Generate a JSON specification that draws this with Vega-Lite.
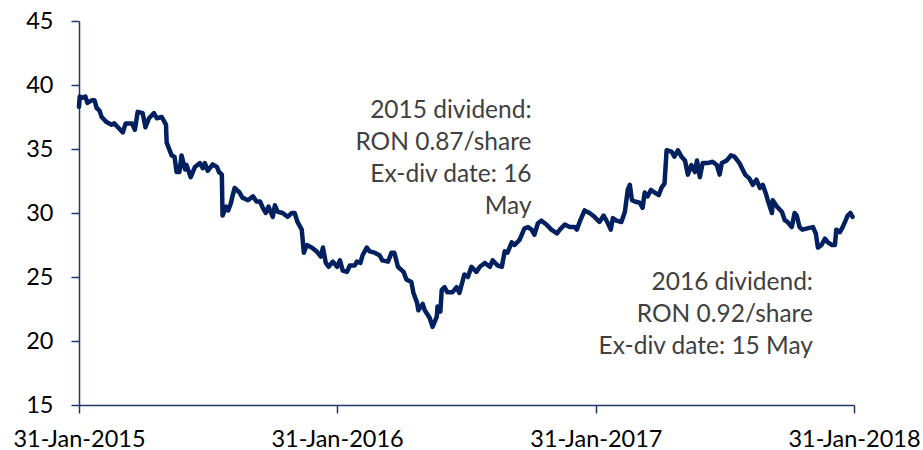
{
  "$schema": "https://vega.github.io/schema/vega-lite/v6.json",
  "width": 775,
  "height": 384,
  "autosize": {"type": "none"},
  "padding": {"left": 79, "top": 21, "right": 69, "bottom": 45},
  "background": "white",
  "config": {
    "view": {"stroke": null},
    "font": "Lato",
    "axis": {
      "domainColor": "#1F3864",
      "domainWidth": 1.5,
      "tickColor": "#1F3864",
      "tickWidth": 1.5,
      "tickSize": 8,
      "grid": false,
      "labelFont": "Lato",
      "labelFontSize": 23.5,
      "labelColor": "#000000",
      "title": null
    }
  },
  "datasets": {
    "prices": [
      {"date":"2015-01-31","price":38.3},{"date":"2015-02-01","price":39.1},{"date":"2015-02-05","price":39.0},{"date":"2015-02-09","price":39.1},
      {"date":"2015-02-12","price":38.6},{"date":"2015-02-18","price":38.8},{"date":"2015-02-22","price":38.8},{"date":"2015-02-25","price":38.2},
      {"date":"2015-03-01","price":38.0},{"date":"2015-03-04","price":37.5},{"date":"2015-03-11","price":37.1},{"date":"2015-03-18","price":36.9},
      {"date":"2015-03-22","price":37.0},{"date":"2015-03-27","price":36.7},{"date":"2015-04-03","price":36.3},{"date":"2015-04-07","price":37.0},
      {"date":"2015-04-16","price":37.0},{"date":"2015-04-20","price":36.5},{"date":"2015-04-24","price":37.9},{"date":"2015-05-01","price":37.8},
      {"date":"2015-05-05","price":36.7},{"date":"2015-05-10","price":37.4},{"date":"2015-05-17","price":37.8},{"date":"2015-05-21","price":37.4},
      {"date":"2015-05-28","price":37.5},{"date":"2015-06-03","price":36.9},{"date":"2015-06-04","price":35.5},{"date":"2015-06-11","price":34.5},
      {"date":"2015-06-15","price":34.4},{"date":"2015-06-18","price":33.2},{"date":"2015-06-22","price":33.2},{"date":"2015-06-25","price":34.5},
      {"date":"2015-06-30","price":33.4},{"date":"2015-07-02","price":33.75},{"date":"2015-07-08","price":32.8},{"date":"2015-07-14","price":33.6},
      {"date":"2015-07-21","price":33.9},{"date":"2015-07-25","price":33.5},{"date":"2015-07-28","price":33.9},{"date":"2015-08-01","price":33.3},
      {"date":"2015-08-08","price":33.8},{"date":"2015-08-14","price":33.6},{"date":"2015-08-17","price":33.2},{"date":"2015-08-21","price":33.0},
      {"date":"2015-08-22","price":29.8},{"date":"2015-08-27","price":30.5},{"date":"2015-08-30","price":30.2},{"date":"2015-09-03","price":30.8},
      {"date":"2015-09-05","price":31.3},{"date":"2015-09-08","price":31.95},{"date":"2015-09-15","price":31.6},{"date":"2015-09-19","price":31.2},
      {"date":"2015-09-27","price":31.0},{"date":"2015-10-04","price":31.3},{"date":"2015-10-09","price":30.9},{"date":"2015-10-14","price":30.9},
      {"date":"2015-10-18","price":30.4},{"date":"2015-10-22","price":30.0},{"date":"2015-10-26","price":30.5},{"date":"2015-11-01","price":29.7},
      {"date":"2015-11-04","price":30.6},{"date":"2015-11-08","price":30.1},{"date":"2015-11-15","price":30.0},{"date":"2015-11-22","price":29.7},
      {"date":"2015-11-28","price":30.0},{"date":"2015-12-02","price":30.0},{"date":"2015-12-06","price":29.3},{"date":"2015-12-12","price":28.7},
      {"date":"2015-12-15","price":26.9},{"date":"2015-12-19","price":27.5},{"date":"2015-12-26","price":27.3},{"date":"2016-01-02","price":27.0},
      {"date":"2016-01-08","price":26.6},{"date":"2016-01-11","price":27.3},{"date":"2016-01-15","price":26.1},{"date":"2016-01-19","price":25.8},
      {"date":"2016-01-25","price":26.2},{"date":"2016-01-31","price":25.8},{"date":"2016-02-04","price":26.3},{"date":"2016-02-08","price":25.5},
      {"date":"2016-02-14","price":25.4},{"date":"2016-02-18","price":25.9},{"date":"2016-02-25","price":25.9},{"date":"2016-02-28","price":26.2},
      {"date":"2016-03-04","price":26.1},{"date":"2016-03-07","price":26.7},{"date":"2016-03-13","price":27.3},{"date":"2016-03-17","price":27.0},
      {"date":"2016-03-24","price":26.9},{"date":"2016-03-31","price":26.7},{"date":"2016-04-04","price":26.3},{"date":"2016-04-12","price":26.2},
      {"date":"2016-04-17","price":26.9},{"date":"2016-04-21","price":26.9},{"date":"2016-04-26","price":25.8},{"date":"2016-05-04","price":25.4},
      {"date":"2016-05-08","price":24.8},{"date":"2016-05-15","price":24.6},{"date":"2016-05-18","price":23.75},{"date":"2016-05-23","price":23.0},
      {"date":"2016-05-25","price":22.4},{"date":"2016-05-31","price":22.9},{"date":"2016-06-03","price":22.4},{"date":"2016-06-10","price":21.8},
      {"date":"2016-06-14","price":21.1},{"date":"2016-06-20","price":21.9},{"date":"2016-06-21","price":22.7},{"date":"2016-06-25","price":22.3},
      {"date":"2016-06-27","price":24.0},{"date":"2016-07-01","price":24.2},{"date":"2016-07-05","price":23.8},{"date":"2016-07-12","price":23.8},
      {"date":"2016-07-18","price":24.2},{"date":"2016-07-22","price":23.75},{"date":"2016-07-29","price":25.2},{"date":"2016-08-03","price":25.0},
      {"date":"2016-08-08","price":25.8},{"date":"2016-08-15","price":25.4},{"date":"2016-08-20","price":25.8},{"date":"2016-08-27","price":26.1},
      {"date":"2016-09-03","price":25.8},{"date":"2016-09-07","price":26.3},{"date":"2016-09-14","price":25.9},{"date":"2016-09-20","price":25.8},
      {"date":"2016-09-24","price":27.0},{"date":"2016-09-28","price":26.9},{"date":"2016-10-04","price":27.7},{"date":"2016-10-08","price":27.5},
      {"date":"2016-10-15","price":27.9},{"date":"2016-10-22","price":28.8},{"date":"2016-10-27","price":28.9},{"date":"2016-11-01","price":28.7},
      {"date":"2016-11-05","price":28.3},{"date":"2016-11-10","price":29.2},{"date":"2016-11-15","price":29.4},{"date":"2016-11-22","price":29.1},
      {"date":"2016-11-29","price":28.7},{"date":"2016-12-07","price":28.4},{"date":"2016-12-11","price":28.7},{"date":"2016-12-18","price":29.1},
      {"date":"2016-12-25","price":28.9},{"date":"2017-01-01","price":28.9},{"date":"2017-01-04","price":28.7},{"date":"2017-01-08","price":29.3},
      {"date":"2017-01-15","price":30.2},{"date":"2017-01-22","price":30.0},{"date":"2017-01-29","price":29.7},{"date":"2017-02-05","price":29.3},
      {"date":"2017-02-11","price":29.8},{"date":"2017-02-17","price":29.2},{"date":"2017-02-21","price":28.7},{"date":"2017-02-24","price":29.6},
      {"date":"2017-03-01","price":29.4},{"date":"2017-03-08","price":29.3},{"date":"2017-03-13","price":30.1},{"date":"2017-03-17","price":31.8},
      {"date":"2017-03-20","price":32.2},{"date":"2017-03-23","price":31.0},{"date":"2017-03-27","price":30.9},{"date":"2017-04-03","price":30.8},
      {"date":"2017-04-07","price":30.4},{"date":"2017-04-10","price":31.6},{"date":"2017-04-14","price":31.3},{"date":"2017-04-19","price":31.8},
      {"date":"2017-04-24","price":31.6},{"date":"2017-04-30","price":31.4},{"date":"2017-05-04","price":32.0},{"date":"2017-05-08","price":32.3},
      {"date":"2017-05-11","price":34.9},{"date":"2017-05-18","price":34.8},{"date":"2017-05-22","price":34.4},{"date":"2017-05-27","price":34.9},
      {"date":"2017-06-01","price":34.4},{"date":"2017-06-06","price":34.1},{"date":"2017-06-10","price":33.0},{"date":"2017-06-15","price":33.75},
      {"date":"2017-06-20","price":33.2},{"date":"2017-06-23","price":34.1},{"date":"2017-06-27","price":32.8},{"date":"2017-07-01","price":33.9},
      {"date":"2017-07-08","price":33.9},{"date":"2017-07-15","price":34.0},{"date":"2017-07-21","price":33.75},{"date":"2017-07-25","price":33.0},
      {"date":"2017-07-28","price":33.9},{"date":"2017-08-04","price":34.1},{"date":"2017-08-10","price":34.5},{"date":"2017-08-15","price":34.4},
      {"date":"2017-08-22","price":33.9},{"date":"2017-08-30","price":33.0},{"date":"2017-09-05","price":32.7},{"date":"2017-09-10","price":32.2},
      {"date":"2017-09-15","price":32.6},{"date":"2017-09-20","price":31.95},{"date":"2017-09-24","price":32.2},{"date":"2017-09-29","price":31.4},
      {"date":"2017-10-01","price":31.0},{"date":"2017-10-07","price":30.0},{"date":"2017-10-08","price":31.0},{"date":"2017-10-14","price":30.5},
      {"date":"2017-10-21","price":30.1},{"date":"2017-10-25","price":29.45},{"date":"2017-10-29","price":29.3},{"date":"2017-11-04","price":28.9},
      {"date":"2017-11-08","price":30.0},{"date":"2017-11-11","price":29.8},{"date":"2017-11-15","price":28.9},{"date":"2017-11-19","price":28.7},
      {"date":"2017-11-26","price":28.8},{"date":"2017-12-04","price":28.9},{"date":"2017-12-08","price":28.4},{"date":"2017-12-11","price":27.3},
      {"date":"2017-12-16","price":27.5},{"date":"2017-12-21","price":28.0},{"date":"2017-12-25","price":27.7},{"date":"2017-12-31","price":27.5},
      {"date":"2018-01-04","price":27.5},{"date":"2018-01-06","price":28.7},{"date":"2018-01-11","price":28.5},{"date":"2018-01-15","price":28.9},
      {"date":"2018-01-19","price":29.4},{"date":"2018-01-22","price":29.8},{"date":"2018-01-26","price":30.0},{"date":"2018-01-29","price":29.7}
    ],
    "notes": [
      {"date":"2016-11-01","price":37.46,"label":"2015 dividend:\nRON 0.87/share\nEx-div date: 16\nMay"},
      {"date":"2017-12-04","price":23.95,"label":"2016 dividend:\nRON 0.92/share\nEx-div date: 15 May"}
    ]
  },
  "layer": [
    {
      "data": {"name": "prices"},
      "mark": {"type": "line", "color": "#002060", "strokeWidth": 4.5, "strokeJoin": "round", "strokeCap": "round"},
      "encoding": {
        "x": {
          "field": "date",
          "type": "temporal",
          "scale": {
            "type": "utc",
            "domain": [
              {"year": 2015, "month": 1, "date": 31, "utc": true},
              {"year": 2018, "month": 1, "date": 31, "utc": true}
            ]
          },
          "axis": {
            "values": [
              {"year": 2015, "month": 1, "date": 31, "utc": true},
              {"year": 2016, "month": 1, "date": 31, "utc": true},
              {"year": 2017, "month": 1, "date": 31, "utc": true},
              {"year": 2018, "month": 1, "date": 31, "utc": true}
            ],
            "format": "%d-%b-%Y",
            "labelPadding": 14,
            "labelOverlap": false,
            "labelFlush": false
          }
        },
        "y": {
          "field": "price",
          "type": "quantitative",
          "scale": {"domain": [15, 45], "nice": false, "zero": false},
          "axis": {"values": [15, 20, 25, 30, 35, 40, 45], "labelPadding": 18}
        }
      }
    },
    {
      "data": {"name": "notes"},
      "mark": {"type": "text", "align": "right", "baseline": "alphabetic", "lineBreak": "\n", "lineHeight": 32, "fontSize": 24.5, "font": "Lato", "color": "#404040"},
      "encoding": {
        "x": {"field": "date", "type": "temporal"},
        "y": {"field": "price", "type": "quantitative"},
        "text": {"field": "label", "type": "nominal"}
      }
    }
  ]
}
